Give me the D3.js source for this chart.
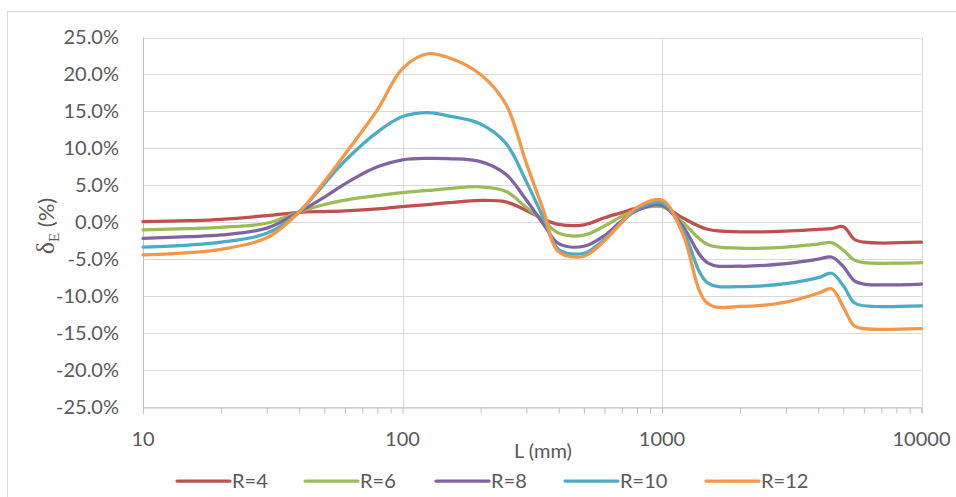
<!DOCTYPE html>
<html><head><meta charset="utf-8">
<script src="https://cdn.jsdelivr.net/npm/d3@7"></script>
<style>
html,body{margin:0;padding:0;background:#fff;}
svg{display:block;}
text{font-family:Lato,"Open Sans",sans-serif;fill:#595959;}
</style></head>
<body>
<svg id="chart" width="956" height="497"></svg>
<script>
const L = [10,15,20,30,40,50,60,80,100,125,150,200,250,300,350,400,500,600,700,800,1000,1200,1500,2000,3000,4000,4500,5000,5500,6000,10000];
const seriesNames = ["R=4","R=6","R=8","R=10","R=12"];
const r4  = [0.08,0.22,0.4,0.9,1.35,1.45,1.55,1.8,2.1,2.4,2.65,2.95,2.75,1.6,0.4,-0.3,-0.35,0.6,1.3,1.9,2.2,0.6,-0.95,-1.3,-1.2,-0.95,-0.85,-0.6,-2.3,-2.7,-2.7];
const r6  = [-1.04,-0.86,-0.68,-0.14,1.4,2.4,3.0,3.6,4.0,4.3,4.55,4.8,4.2,2.0,0.2,-1.5,-1.75,-0.5,0.8,1.7,2.1,0.0,-3.0,-3.5,-3.35,-2.95,-2.75,-3.8,-5.1,-5.47,-5.47];
const r8  = [-2.17,-1.95,-1.72,-0.8,1.4,3.4,5.2,7.5,8.45,8.65,8.6,8.2,6.5,3.0,-0.3,-2.9,-3.25,-1.8,0.2,1.6,2.3,-0.5,-5.5,-5.95,-5.6,-5.0,-4.7,-6.0,-7.9,-8.36,-8.36];
const r10 = [-3.35,-3.08,-2.7,-1.5,1.4,5.2,8.3,12.2,14.3,14.85,14.4,13.3,10.7,5.5,0.5,-3.7,-4.2,-2.3,0.0,1.8,2.6,-1.0,-8.2,-8.7,-8.3,-7.5,-6.9,-8.6,-10.9,-11.3,-11.3];
const r12 = [-4.43,-4.1,-3.66,-2.1,1.4,5.5,9.2,15.2,20.8,22.8,22.3,20.0,16.0,8.0,1.5,-4.0,-4.6,-2.5,0.0,2.0,3.0,-1.5,-11.0,-11.4,-10.8,-9.6,-9.0,-11.5,-14.0,-14.4,-14.4];
const colors = ["#C0504D","#9BBB59","#8064A2","#4BACC6","#F79646"];
const yTicks = [-25,-20,-15,-10,-5,0,5,10,15,20,25];
const xTicks = [10,100,1000,10000];

const series = [r4,r6,r8,r10,r12];
const svg = d3.select("#chart");
const pLeft = 143, pRight = 921.5, pTop = 37.5, pBottom = 407;

const x = d3.scaleLog().domain([10,10000]).range([pLeft,pRight]);
const y = d3.scaleLinear().domain([-25,25]).range([pBottom,pTop]);

// outer chart border (partially cropped)
svg.append("rect").attr("x",7.5).attr("y",11.5).attr("width",1000).attr("height",1000)
  .attr("fill","none").attr("stroke","#d9d9d9").attr("stroke-width",1);

// horizontal gridlines
svg.append("g").selectAll("line").data(yTicks).join("line")
  .attr("x1",pLeft).attr("x2",pRight)
  .attr("y1",d=>Math.round(y(d))+0.5).attr("y2",d=>Math.round(y(d))+0.5)
  .attr("stroke","#d9d9d9").attr("stroke-width",1);
// vertical gridlines
svg.append("g").selectAll("line").data(xTicks.slice(1)).join("line")
  .attr("x1",d=>Math.round(x(d))+0.5).attr("x2",d=>Math.round(x(d))+0.5)
  .attr("y1",pTop).attr("y2",pBottom)
  .attr("stroke","#d9d9d9").attr("stroke-width",1);

// x axis with minor ticks
const allTicks = [];
for (let p=10; p<10000; p*=10) for (let m=1; m<10; m++) allTicks.push(p*m);
allTicks.push(10000);
const xAxis = d3.axisBottom(x).tickValues(allTicks).tickSize(6).tickFormat("");
const gx = svg.append("g").attr("transform",`translate(0,${Math.round(pBottom)+0.5})`).call(xAxis);
gx.select(".domain").attr("stroke","#bfbfbf");
gx.selectAll(".tick line").attr("stroke","#bfbfbf");

// y axis line
svg.append("line").attr("x1",pLeft+0.5).attr("x2",pLeft+0.5).attr("y1",pTop).attr("y2",pBottom+6)
  .attr("stroke","#bfbfbf");

// y tick labels
const yAxis = d3.axisLeft(y).tickValues(yTicks).tickSize(0).tickPadding(24).tickFormat(d=>d.toFixed(1)+"%");
const gy = svg.append("g").attr("transform",`translate(${pLeft},0)`).call(yAxis);
gy.select(".domain").remove();
gy.selectAll("text").style("font-family","Lato").style("font-size","20px").attr("fill","#595959");

// x tick labels
svg.append("g").selectAll("text").data(xTicks).join("text")
  .attr("x",d=>x(d)).attr("y",446).attr("text-anchor","middle")
  .style("font-size","20px").text(d=>d);

// x axis title
svg.append("text").attr("x",543).attr("y",458).attr("text-anchor","middle")
  .style("font-size","20px").text("L (mm)");

// y axis title
const yt = svg.append("text").attr("transform","translate(54,226) rotate(-90)").attr("text-anchor","middle")
  .style("font-size","22px");
yt.append("tspan").style("font-family","'Liberation Serif',serif").style("font-size","26px").text("δ");
yt.append("tspan").style("font-family","'Liberation Serif',serif").style("font-size","15px").attr("dy",5).text("E");
yt.append("tspan").attr("dy",-5).text(" (%)");

// lines
const line = d3.line().x((d,i)=>x(L[i])).y(d=>y(d)).curve(d3.curveCatmullRom.alpha(0.5));
svg.append("g").selectAll("path").data(series).join("path")
  .attr("d",d=>line(d)).attr("fill","none")
  .attr("stroke",(d,i)=>colors[i]).attr("stroke-width",3.25)
  .attr("stroke-linejoin","round").attr("stroke-linecap","round");

// legend
const legX = [177,305,436,565,706];
const lg = svg.append("g").selectAll("g").data(seriesNames).join("g")
  .attr("transform",(d,i)=>`translate(${legX[i]},481)`);
lg.append("line").attr("x1",0).attr("x2",53).attr("y1",0).attr("y2",0)
  .attr("stroke",(d,i)=>colors[i]).attr("stroke-width",3.25).attr("stroke-linecap","round");
lg.append("text").attr("x",55).attr("y",7).style("font-size","20px").text(d=>d);
</script>
</body></html>
